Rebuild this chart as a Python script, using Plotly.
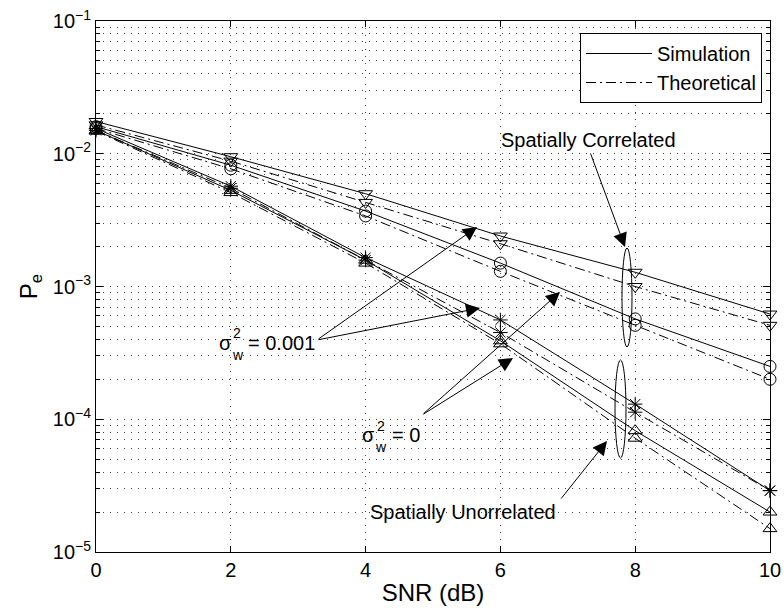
import plotly.graph_objects as go

# ---------------- data ----------------
snr = [0, 2, 4, 6, 8, 10]

corr_noise_sim = [0.0175, 0.0095, 0.0050, 0.0024, 0.00128, 0.00062]
corr_noise_theo = [0.0165, 0.0088, 0.0043, 0.0021, 0.00100, 0.00051]
corr_clean_sim = [0.0160, 0.0082, 0.0037, 0.00150, 0.00057, 0.00025]
corr_clean_theo = [0.0155, 0.0077, 0.0034, 0.00130, 0.00051, 0.00020]
unc_noise_sim = [0.0155, 0.0057, 0.00165, 0.00056, 0.000130, 0.000029]
unc_noise_theo = [0.0150, 0.0055, 0.00158, 0.00045, 0.000113, 0.000029]
unc_clean_sim = [0.0150, 0.0053, 0.00158, 0.00039, 0.000082, 0.000020]
unc_clean_theo = [0.0148, 0.0051, 0.00150, 0.00037, 0.000072, 0.000015]

x_ticks = [0, 2, 4, 6, 8, 10]
y_ticks = [1e-5, 1e-4, 1e-3, 1e-2, 1e-1]
y_tick_text = ["10<sup>\u22125</sup>", "10<sup>\u22124</sup>", "10<sup>\u22123</sup>",
               "10<sup>\u22122</sup>", "10<sup>\u22121</sup>"]
y_minor = [m * 10.0 ** e for e in range(-5, -1) for m in range(2, 10)]

# ---------------- layout geometry (pixels) ----------------
W_FIG, H_FIG = 784, 610
ML, MR, MT, MB = 96, 14, 21, 58
PW = W_FIG - ML - MR
PH = H_FIG - MT - MB
BOTTOM = MT + PH

FONT = "Liberation Sans, Arial, Helvetica, sans-serif"
SIM_DASH = "solid"
THEO_DASH = "10px,4px,2px,4px"


def px(x, y):
    return (x - ML) / PW, (BOTTOM - y) / PH


fig = go.Figure()

series = [
    (corr_noise_sim, SIM_DASH, "triangle-down-open"),
    (corr_noise_theo, THEO_DASH, "triangle-down-open"),
    (corr_clean_sim, SIM_DASH, "circle-open"),
    (corr_clean_theo, THEO_DASH, "circle-open"),
    (unc_noise_sim, SIM_DASH, "asterisk-open"),
    (unc_noise_theo, THEO_DASH, "asterisk-open"),
    (unc_clean_sim, SIM_DASH, "triangle-up-open"),
    (unc_clean_theo, THEO_DASH, "triangle-up-open"),
]
for vals, dash, sym in series:
    fig.add_trace(go.Scatter(
        x=snr, y=vals, mode="lines+markers", showlegend=False, cliponaxis=False,
        line=dict(color="black", width=1, dash=dash),
        marker=dict(symbol=sym, size=12, color="black", line=dict(color="black", width=1)),
    ))

# legend-only entries
fig.add_trace(go.Scatter(x=[None], y=[None], mode="lines", name="Simulation",
                         line=dict(color="black", width=1, dash=SIM_DASH)))
fig.add_trace(go.Scatter(x=[None], y=[None], mode="lines", name="Theoretical",
                         line=dict(color="black", width=1, dash=THEO_DASH)))

annotations = []


def text_ann(s, x, y, size=20, anchor="left"):
    xp, yp = px(x, y)
    annotations.append(dict(text=s, x=xp, y=yp, xref="paper", yref="paper",
                            showarrow=False, xanchor=anchor, yanchor="middle",
                            font=dict(family=FONT, size=size, color="black"),
                            borderpad=0))


def arrow(tip, tail):
    xp, yp = px(*tip)
    annotations.append(dict(text="", x=xp, y=yp, xref="paper", yref="paper",
                            showarrow=True, ax=tail[0] - tip[0], ay=tail[1] - tip[1],
                            axref="pixel", ayref="pixel",
                            arrowhead=2, arrowsize=2.8, arrowwidth=1, arrowcolor="black",
                            standoff=0, startstandoff=0))


text_ann("Spatially Correlated", 500, 140)
text_ann("Spatially Unorrelated", 369, 512)
# sigma_w^2 = 0.001
text_ann("\u03c3", 218, 343)
text_ann("2", 232, 333, size=14)
text_ann("w", 231, 355, size=14)
text_ann("= 0.001", 247, 343)
# sigma_w^2 = 0
text_ann("\u03c3", 361, 435)
text_ann("2", 376, 426, size=14)
text_ann("w", 374, 447, size=14)
text_ann("= 0", 391, 435)

arrow((625, 247), (590, 152))
arrow((477, 227), (317, 340))
arrow((480, 308), (317, 340))
arrow((560, 292), (422, 415))
arrow((513, 358), (422, 415))
arrow((607, 441), (560, 500))

shapes = []
for (x0, y0, x1, y1) in [(622, 248, 632, 347), (615, 360, 626, 458)]:
    a0, b0 = px(x0, y1)
    a1, b1 = px(x1, y0)
    shapes.append(dict(type="circle", xref="paper", yref="paper",
                       x0=a0, y0=b0, x1=a1, y1=b1,
                       line=dict(color="black", width=1)))

GRID = dict(showgrid=True, gridcolor="#444444", gridwidth=1, griddash="1px,6px")

fig.update_layout(
    width=W_FIG, height=H_FIG,
    margin=dict(l=ML, r=MR, t=MT, b=MB, autoexpand=False),
    paper_bgcolor="white", plot_bgcolor="white",
    font=dict(family=FONT, size=20, color="black"),
    annotations=annotations, shapes=shapes,
    legend=dict(x=(762 - ML) / PW, y=(BOTTOM - 33) / PH, xanchor="right", yanchor="top",
                bgcolor="white", bordercolor="black", borderwidth=1,
                font=dict(family=FONT, size=20, color="black"),
                itemwidth=66, tracegroupgap=0),
    xaxis=dict(range=[0, 10], tickvals=x_ticks, ticks="inside", ticklen=6,
               tickcolor="black", showline=True, linecolor="black", linewidth=1,
               mirror="allticks", zeroline=False,
               title=dict(text="SNR (dB)", standoff=4), **GRID),
    yaxis=dict(type="log", range=[-5, -1], tickvals=y_ticks, ticktext=y_tick_text,
               ticks="inside", ticklen=7, tickcolor="black", showline=True,
               linecolor="black", linewidth=1, mirror="allticks", zeroline=False,
               title=dict(text="P<sub>e</sub>", standoff=8),
               minor=dict(tickvals=y_minor, ticks="inside", ticklen=4, tickcolor="black",
                          showgrid=True, gridcolor="#444444", gridwidth=1, griddash="1px,6px"),
               **GRID),
)

fig.write_html("out.html")
